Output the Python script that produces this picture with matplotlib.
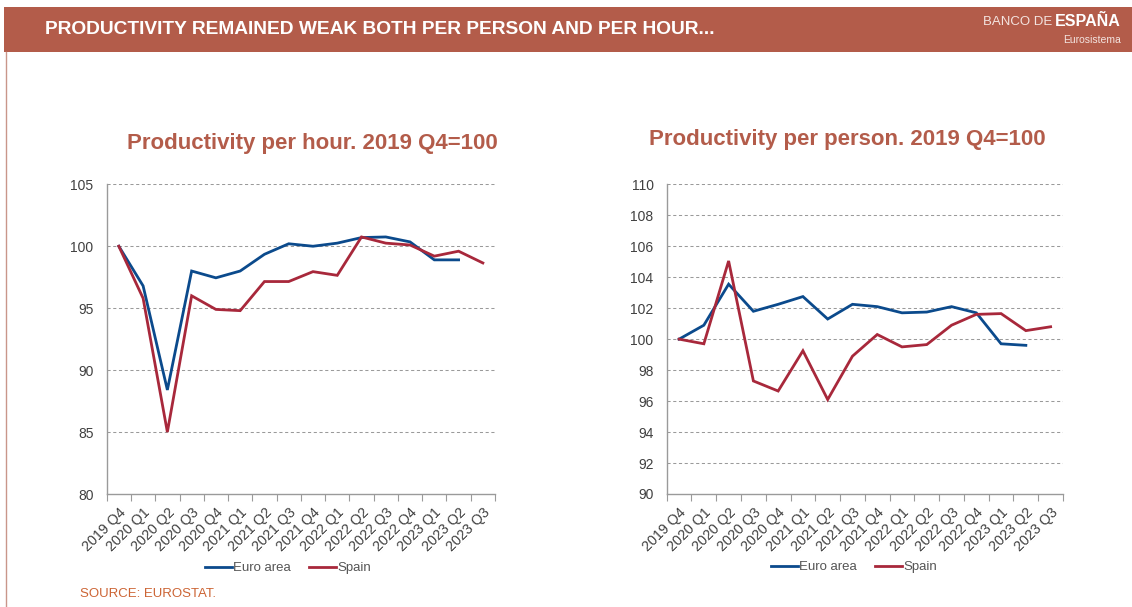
import matplotlib
matplotlib.use("Agg")
import matplotlib.pyplot as plt
from matplotlib.patches import Rectangle
from matplotlib.lines import Line2D

plt.rcParams['font.family'] = ['Liberation Sans', 'DejaVu Sans']

quarters = ["2019 Q4", "2020 Q1", "2020 Q2", "2020 Q3", "2020 Q4", "2021 Q1",
            "2021 Q2", "2021 Q3", "2021 Q4", "2022 Q1", "2022 Q2", "2022 Q3",
            "2022 Q4", "2023 Q1", "2023 Q2", "2023 Q3"]

hour_euro = [100.0, 96.8, 88.4, 98.0, 97.45, 98.0, 99.35, 100.2, 100.0, 100.25,
             100.7, 100.75, 100.35, 98.9, 98.9]
hour_spain = [100.0, 95.8, 85.0, 96.0, 94.9, 94.8, 97.15, 97.15, 97.95, 97.65,
              100.75, 100.25, 100.1, 99.2, 99.6, 98.65]

person_euro = [100.0, 100.9, 103.55, 101.8, 102.25, 102.75, 101.3, 102.25, 102.1,
               101.7, 101.75, 102.1, 101.7, 99.7, 99.6]
person_spain = [100.0, 99.7, 105.05, 97.3, 96.65, 99.25, 96.1, 98.9, 100.3, 99.5,
                99.65, 100.9, 101.6, 101.65, 100.55, 100.8]

hour_yticks = [80, 85, 90, 95, 100, 105]
person_yticks = [90, 92, 94, 96, 98, 100, 102, 104, 106, 108, 110]

series_labels = ["Euro area", "Spain"]

BLUE = "#0B4A8C"
RED = "#A8283B"
BRICK = "#B35C4A"
TICKC = "#404040"
GRIDC = "#9A9A9A"

W, H = 1132, 607
fig = plt.figure(figsize=(W / 100, H / 100), dpi=100)
fig.patch.set_facecolor("white")

# header band
fig.patches.append(Rectangle((4 / W, 1 - 51.5 / H), 1 - 4 / W, 44.5 / H,
                             transform=fig.transFigure, facecolor=BRICK,
                             edgecolor="none", zorder=0))
fig.add_artist(Line2D([5.5 / W, 5.5 / W], [0, 1 - 51.5 / H], transform=fig.transFigure,
                      color="#C9968A", lw=1.0))
fig.text(45 / W, 1 - 29 / H, "PRODUCTIVITY REMAINED WEAK BOTH PER PERSON AND PER HOUR...",
         color="white", fontsize=13.8, fontweight="bold", ha="left", va="center")
fig.text(1052 / W, 1 - 22 / H, "BANCO DE", color="#F3E4E0", fontsize=9.5,
         ha="right", va="center")
fig.text(1121 / W, 1 - 22 / H, "ESPAÑA", color="white", fontsize=11.5, fontweight="bold",
         ha="right", va="center")
fig.text(1121 / W, 1 - 40 / H, "Eurosistema", color="#F3E4E0", fontsize=7.5,
         ha="right", va="center")


def make_axes(rect, yticks, euro, spain, title, title_xy, legend_xy):
    ax = fig.add_axes(rect)
    x = list(range(len(quarters)))
    ax.set_xlim(-0.5, len(quarters) - 0.5)
    ax.set_ylim(yticks[0], yticks[-1])
    ax.set_yticks(yticks)
    ax.set_yticklabels([str(t) for t in yticks])
    for t in yticks[1:]:
        ax.axhline(t, color=GRIDC, lw=0.75, linestyle=(0, (3, 2.5)), zorder=1)
    l1, = ax.plot(x[:len(euro)], euro, color=BLUE, lw=2.0, zorder=3,
                  solid_joinstyle="miter")
    l2, = ax.plot(x[:len(spain)], spain, color=RED, lw=2.0, zorder=3,
                  solid_joinstyle="miter")
    ax.set_xticks([i - 0.5 for i in range(len(quarters) + 1)])
    ax.set_xticklabels([])
    ax.set_xticks(x, minor=True)
    ax.set_xticklabels(quarters, minor=True, rotation=45, ha="right",
                       rotation_mode="anchor", fontsize=10.3, color=TICKC)
    ax.tick_params(axis="x", which="major", length=5, color=GRIDC, direction="out")
    ax.tick_params(axis="x", which="minor", length=0, pad=8)
    ax.tick_params(axis="y", length=0, labelsize=10, labelcolor=TICKC, pad=9.5)
    for s in ["top", "right"]:
        ax.spines[s].set_visible(False)
    for s in ["left", "bottom"]:
        ax.spines[s].set_color(GRIDC)
        ax.spines[s].set_linewidth(1.0)
    fig.text(title_xy[0] / W, 1 - title_xy[1] / H, title, color=BRICK, fontsize=16,
             fontweight="bold", ha="center", va="center")
    leg = fig.legend(handles=[l1, l2], labels=series_labels, loc="center",
                     bbox_to_anchor=(legend_xy[0] / W, 1 - legend_xy[1] / H),
                     ncol=2, frameon=False, fontsize=9.5, handlelength=2.0,
                     handletextpad=0.1, columnspacing=1.4, borderaxespad=0)
    for t in leg.get_texts():
        t.set_color("#555555")
    return ax


make_axes([106.7 / W, 1 - 494 / H, (495 - 106.7) / W, (494 - 184.3) / H],
          hour_yticks, hour_euro, hour_spain,
          "Productivity per hour. 2019 Q4=100", (312, 143), (288, 568))
make_axes([666.7 / W, 1 - 494 / H, (1063 - 666.7) / W, (494 - 184.3) / H],
          person_yticks, person_euro, person_spain,
          "Productivity per person. 2019 Q4=100", (847, 139), (854, 567))

fig.text(80 / W, 1 - 594 / H, "SOURCE: EUROSTAT.", color="#CC6434", fontsize=9.5,
         ha="left", va="center")

fig.savefig("out.png", dpi=100, facecolor="white")
